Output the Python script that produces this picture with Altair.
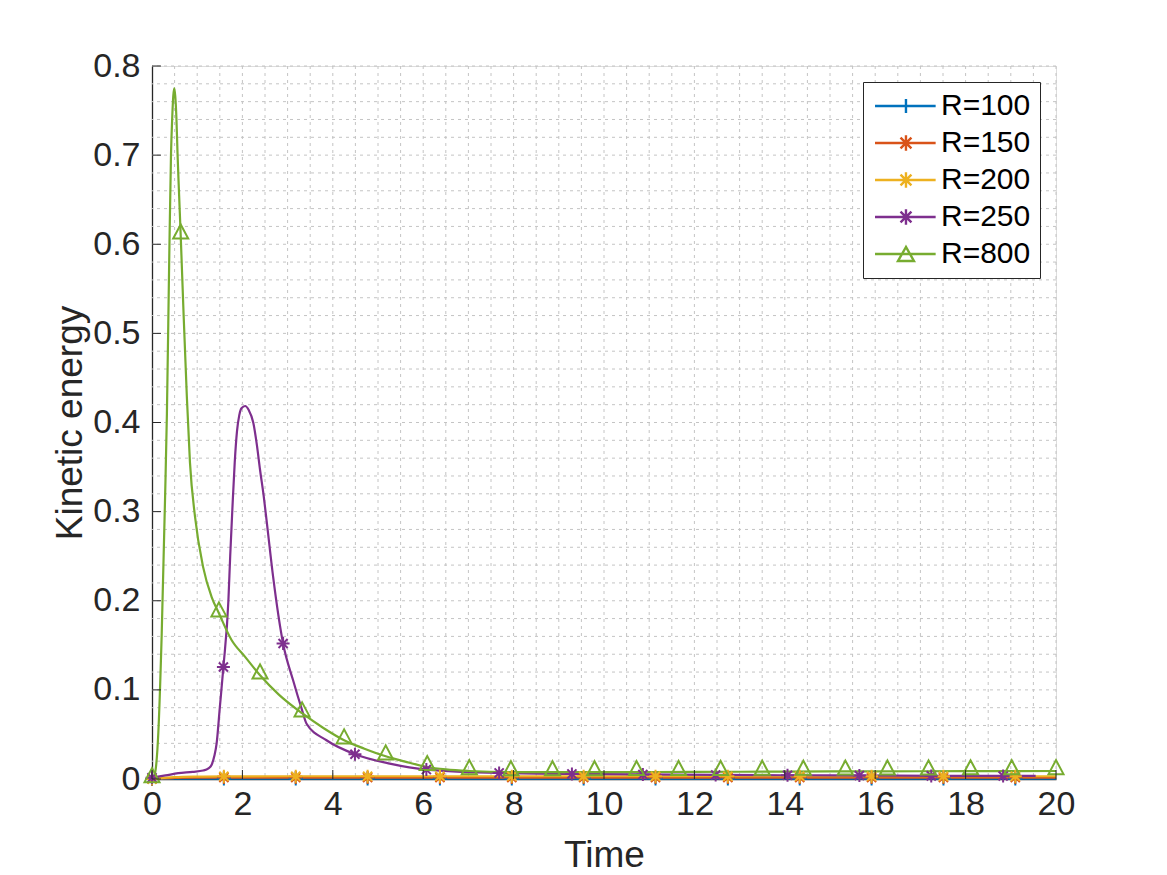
import altair as alt
import pandas as pd

FONT = "Liberation Sans"
TXT = "#262626"

names = ["R=100", "R=150", "R=200", "R=250", "R=800"]
colors = ["#0072BD", "#D95319", "#EDB120", "#7E2F8E", "#77AC30"]

# ---- line data ----
t_100 = [0, 0.2, 0.5, 1.0, 2.0, 5.0, 10.0, 15.0, 20.0]
v_100 = [0, 0.0002, 0.0004, 0.0005, 0.0005, 0.0005, 0.0005, 0.0005, 0.0005]

t_150 = [0, 0.2, 0.5, 1.0, 2.0, 5.0, 10.0, 15.0, 20.0]
v_150 = [0, 0.0006, 0.0011, 0.0015, 0.0016, 0.0016, 0.0016, 0.0016, 0.0016]

t_200 = [0, 0.2, 0.5, 1.0, 1.59, 3.0, 6.0, 10.0, 14.0, 20.0]
v_200 = [0, 0.001, 0.002, 0.0027, 0.003, 0.0031, 0.0031, 0.0031, 0.0031, 0.0031]

t_250 = [0, 0.3, 0.58, 0.9, 1.13, 1.25, 1.32, 1.38, 1.43, 1.5, 1.58, 1.69, 1.73,
         1.78, 1.83, 1.88, 1.93, 1.98, 2.06, 2.14, 2.24, 2.32, 2.39, 2.47, 2.54, 2.68, 2.9,
         3.12, 3.31, 3.42, 3.86, 4.49, 5.26, 6.07, 7.68, 10.0, 12.5, 15.0, 17.5, 19.55]
v_250 = [0.0015, 0.004, 0.0065, 0.008, 0.0095, 0.012, 0.016, 0.026, 0.04, 0.08, 0.1257,
         0.20, 0.25, 0.305, 0.355, 0.39, 0.408, 0.416, 0.4185, 0.414, 0.400, 0.375, 0.347,
         0.318, 0.288, 0.2267, 0.152, 0.111, 0.079, 0.062, 0.0435, 0.0278, 0.0173, 0.0106,
         0.0068, 0.0055, 0.0046, 0.004, 0.0036, 0.0034]

t_800 = [0.0, 0.066, 0.139, 0.215, 0.288, 0.33, 0.383, 0.42, 0.45, 0.47, 0.493, 0.515,
         0.54, 0.566, 0.60, 0.635, 0.70, 0.77, 0.84, 0.95, 1.13, 1.32, 1.48, 1.76, 2.06,
         2.39, 2.8, 3.32, 3.8, 4.25, 4.7, 5.17, 5.6, 6.09, 6.5, 7.02, 7.94, 10.0, 12.0,
         14.0, 16.0, 18.0, 20.0]
v_800 = [0.0, 0.0065, 0.051, 0.163, 0.313, 0.41, 0.59, 0.70, 0.745, 0.766, 0.775, 0.766,
         0.742, 0.70, 0.655, 0.61, 0.52, 0.43, 0.355, 0.295, 0.238, 0.204, 0.186, 0.156,
         0.137, 0.1164, 0.095, 0.0738, 0.057, 0.0435, 0.034, 0.0255, 0.0195, 0.0135,
         0.0108, 0.009, 0.0078, 0.0078, 0.008, 0.0083, 0.0086, 0.0088, 0.009]

# ---- marker data ----
tm_low = [0, 1.59, 3.18, 4.77, 6.37, 7.96, 9.55, 11.14, 12.74, 14.33, 15.92, 17.51, 19.1]
vm_100 = [0] + [0.0005] * 12
vm_150 = [0] + [0.0016] * 12
vm_200 = [0] + [0.0031] * 12

tm_250 = [0, 1.58, 2.9, 4.49, 6.07, 7.68, 9.29, 10.86, 12.47, 14.06, 15.65, 17.24, 18.83]
vm_250 = [0.0015, 0.1257, 0.152, 0.0278, 0.0106, 0.0068, 0.0057, 0.005, 0.0045, 0.0041,
          0.0038, 0.0035, 0.0034]

tm_800 = [0, 0.635, 1.48, 2.39, 3.32, 4.25, 5.17, 6.09, 7.02, 7.94, 8.86, 9.79, 10.72,
          11.65, 12.58, 13.50, 14.41, 15.34, 16.27, 17.18, 18.11, 19.02, 20.0]
vm_800 = [0, 0.61, 0.186, 0.1164, 0.0738, 0.0435, 0.0255, 0.0135, 0.009, 0.0078, 0.0078,
          0.0078, 0.0079, 0.008, 0.0081, 0.0083, 0.0084, 0.0085, 0.0086, 0.0087, 0.0088,
          0.0089, 0.009]

x_ticks = [0, 2, 4, 6, 8, 10, 12, 14, 16, 18, 20]
y_ticks = [0, 0.1, 0.2, 0.3, 0.4, 0.5, 0.6, 0.7, 0.8]
x_grid = [i * 0.5 for i in range(1, 41)]
y_grid = [round(i * 0.02, 2) for i in range(1, 41)]

# ---- tables ----
line_rows = []
for n, ts, vs in [(names[0], t_100, v_100), (names[1], t_150, v_150), (names[2], t_200, v_200),
                  (names[3], t_250, v_250), (names[4], t_800, v_800)]:
    for t, v in zip(ts, vs):
        line_rows.append({"series": n, "t": t, "v": v})
lines_df = pd.DataFrame(line_rows)

mk_rows = []
for n, kind, ts, vs in [(names[0], "plus", tm_low, vm_100), (names[1], "star", tm_low, vm_150),
                        (names[2], "star", tm_low, vm_200), (names[3], "star", tm_250, vm_250),
                        (names[4], "tri", tm_800, vm_800)]:
    for t, v in zip(ts, vs):
        mk_rows.append({"series": n, "kind": kind, "t": t, "v": v})
mk_df = pd.DataFrame(mk_rows)

PLUS = "M-1,0L1,0M0,-1L0,1"
STAR = "M-1,0L1,0M0,-1L0,1M-0.7,-0.7L0.7,0.7M-0.7,0.7L0.7,-0.7"
TRI = "M0,-1.45L-1,0.42L1,0.42Z"
LINE = "M-1.71,0L6.95,0"
L_PLUS = LINE + "M1.71,0L3.71,0M2.71,-1L2.71,1"
L_STAR = LINE + "M1.61,0L3.81,0M2.71,-1.1L2.71,1.1M1.93,-0.78L3.49,0.78M1.93,0.78L3.49,-0.78"
L_TRI = LINE + "M2.71,-1L1.57,1L3.85,1Z"
legend_paths = [L_PLUS, L_STAR, L_STAR, L_STAR, L_TRI]

W, H = 904, 713
xscale = alt.Scale(domain=[0, 20], nice=False, zero=False)
yscale = alt.Scale(domain=[0, 0.8], nice=False, zero=False)
cscale = alt.Scale(domain=names, range=colors)

xaxis = alt.Axis(values=x_ticks, format="d", labelFont=FONT, labelFontSize=34, labelColor=TXT,
                 labelPadding=8, labelFlush=False, labelOverlap=False, ticks=False, tickSize=0,
                 grid=False, domainColor=TXT, domainWidth=1.3, title="Time", titleFont=FONT,
                 titleFontSize=37, titleFontWeight="normal", titleColor=TXT, titleY=76,
                 titleBaseline="middle")
yaxis = alt.Axis(values=y_ticks, format=".1~f", labelFont=FONT, labelFontSize=34, labelColor=TXT,
                 labelPadding=12, labelFlush=False, labelOverlap=False, ticks=False, tickSize=0,
                 grid=False, domainColor=TXT, domainWidth=1.3, title="Kinetic energy",
                 titleFont=FONT, titleFontSize=37, titleFontWeight="normal", titleColor=TXT,
                 titleX=-82, titleY=H / 2, titleBaseline="middle")


def X(f):
    return alt.X(f, type="quantitative", scale=xscale, axis=xaxis)


def Y(f):
    return alt.Y(f, type="quantitative", scale=yscale, axis=yaxis)


grid_style = dict(color="#c4c4c4", strokeDash=[3, 4], strokeWidth=1)
gx = alt.Chart(pd.DataFrame({"g": x_grid})).mark_rule(**grid_style).encode(x=X("g"))
gy = alt.Chart(pd.DataFrame({"g": y_grid})).mark_rule(**grid_style).encode(y=Y("g"))

lines = alt.Chart(lines_df).mark_line(strokeWidth=2.2, interpolate="monotone").encode(
    x=X("t"), y=Y("v"), color=alt.Color("series:N", scale=cscale, legend=None),
    detail="series:N")

marker_layers = []
for kind, path, size in [("plus", PLUS, 196), ("star", STAR, 169), ("tri", TRI, 225)]:
    marker_layers.append(
        alt.Chart(mk_df).transform_filter(alt.datum.kind == kind)
        .mark_point(shape=path, size=size, filled=False, strokeWidth=2, opacity=1)
        .encode(x=X("t"), y=Y("v"), color=alt.Color("series:N", scale=cscale, legend=None))
    )

xt = alt.Chart(pd.DataFrame({"t": x_ticks})).mark_rule(color=TXT, strokeWidth=1).encode(
    x=X("t"), y=alt.value(H), y2=alt.value(H - 9))
yt = alt.Chart(pd.DataFrame({"v": y_ticks})).mark_rule(color=TXT, strokeWidth=1).encode(
    y=Y("v"), x=alt.value(0), x2=alt.value(9))

leg_kw = dict(title=None, orient="top-right", offset=16, padding=9, fillColor="white",
              strokeColor=TXT, labelFont=FONT, labelFontSize=30, labelColor="black",
              symbolSize=196, symbolStrokeWidth=2.4, symbolOpacity=1, labelOffset=39,
              rowPadding=7)
leg_df = pd.DataFrame({"series": names, "t": [0] * 5, "v": [0] * 5})
legend_layer = alt.Chart(leg_df).mark_point(filled=False, opacity=0, strokeWidth=2).encode(
    x=X("t"), y=Y("v"),
    color=alt.Color("series:N", scale=cscale, legend=alt.Legend(**leg_kw)),
    shape=alt.Shape("series:N", scale=alt.Scale(domain=names, range=legend_paths),
                    legend=alt.Legend(**leg_kw)),
)

chart = alt.layer(legend_layer, gx, gy, lines, *marker_layers, xt, yt).properties(
    width=W, height=H,
    padding={"left": 152, "top": 66, "right": 111, "bottom": 96},
    autosize=alt.AutoSizeParams(type="none"),
).configure_view(stroke=None).configure(background="white")

chart.save("out.html", embed_options={"renderer": "svg", "actions": False})
